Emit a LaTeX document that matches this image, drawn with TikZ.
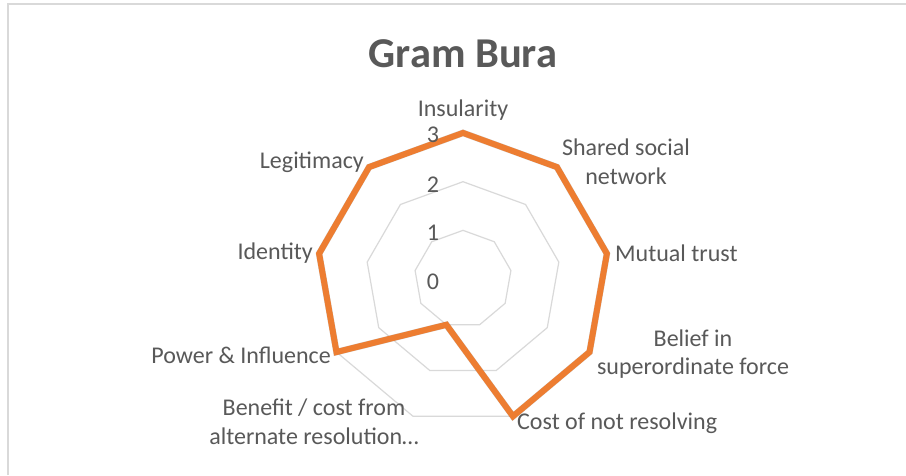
\documentclass[tikz,border=0pt]{standalone}
\usepackage{fontspec}
\setmainfont{Carlito}
\definecolor{orng}{HTML}{ED7D31}
\definecolor{gridc}{HTML}{D9D9D9}
\definecolor{txtc}{HTML}{595959}
\begin{document}
\begin{tikzpicture}[x=1pt,y=-1pt,
  gridline/.style={draw=gridc,line width=1.2pt},
  lbl/.style={text=txtc,font=\fontsize{24}{28.5}\selectfont,inner sep=0pt,align=center},
  tick/.style={text=txtc,font=\fontsize{24}{28}\selectfont,inner sep=0pt},
  series/.style={draw=orng,line width=6pt,line join=miter},
  shadowline/.style={draw=black,opacity=0.18,line width=6.5pt,line join=miter}]
\useasboundingbox (0,0) rectangle (906,475);
\fill[white] (0,0) rectangle (906,475);
\draw[gridc,line width=1.2pt] (8,475) -- (8,4) -- (906,4);
\coordinate (c) at (463,279);
% rings
\foreach \r in {0.333,0.666,1}{
  \draw[gridline] plot[samples at={0,...,8}] ({463+146.1*\r*cos(\x*40-90)},{279+146.1*\r*sin(\x*40-90)}) -- cycle;
}
% data points
\foreach \k/\v in {0/3,1/3,2/3,3/3,4/3,5/1,6/3,7/3,8/3}{
  \coordinate (p\k) at ({463+48.7*\v*cos(\k*40-90)},{279+48.7*\v*sin(\k*40-90)});
}
\draw[shadowline,shift={(1.5,2)}] (p0) -- (p1) -- (p2) -- (p3) -- (p4) -- (p5) -- (p6) -- (p7) -- (p8) -- cycle;
\draw[series] (p0) -- (p1) -- (p2) -- (p3) -- (p4) -- (p5) -- (p6) -- (p7) -- (p8) -- cycle;
% tick labels
\node[tick] (t0) at (433,282) {0};
\node[tick] (t1) at (433,233) {1};
\node[tick] (t2) at (433,185) {2};
\node[tick] (t3) at (433,135) {3};
% title
\node[text=txtc,font=\fontsize{42.5}{50}\selectfont\bfseries,inner sep=0pt] (title) at (463,54) {Gram Bura};
% category labels
\node[lbl] (l0) at (463,110) {Insularity};
\node[lbl] (l1) at (626,162) {Shared social\\network};
\node[lbl,anchor=west] (l2) at (615,253) {Mutual trust};
\node[lbl] (l3) at (693,354) {Belief in\\superordinate force};
\node[lbl,anchor=west] (l4) at (517,423) {Cost of not resolving};
\node[lbl] (l5) at (314,422) {Benefit / cost from\\alternate resolution…};
\node[lbl,anchor=east] (l6) at (331,355) {Power \& Influence};
\node[lbl,anchor=east] (l7) at (313,253) {Identity};
\node[lbl,anchor=east] (l8) at (364,162) {Legitimacy};
\end{tikzpicture}
\end{document}
